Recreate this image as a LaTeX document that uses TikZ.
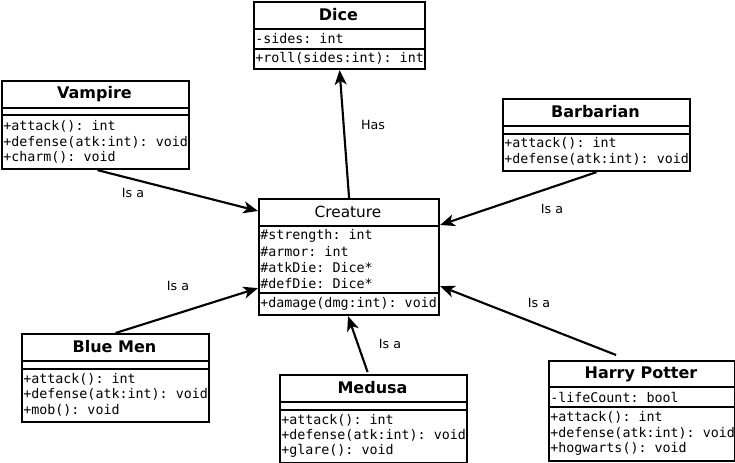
\documentclass[tikz,border=0pt]{standalone}
\usepackage{fontspec}
\setmainfont{DejaVu Sans}
\setmonofont{DejaVu Sans Mono}
\usetikzlibrary{arrows.meta,calc}
\tikzset{
  classbox/.style={draw, line width=1.6pt, inner sep=0pt, rectangle, anchor=north west},
  divider/.style={line width=1.6pt},
  title/.style={font=\fontsize{12}{14}\selectfont\bfseries, inner sep=0pt},
  ctitle/.style={font=\fontsize{11.5}{13}\selectfont, inner sep=0pt},
  member/.style={font=\fontsize{10}{11}\selectfont\ttfamily, inner sep=0pt, anchor=west},
  lbl/.style={font=\fontsize{9.5}{10}\selectfont, inner sep=0pt},
  conn/.style={line width=1.6pt, -{Stealth[length=11pt,width=9pt,inset=3pt]}}
}
\newcommand\umlbox[5]{%
  \node[classbox, minimum width={(#4-#2)*0.75pt}, minimum height={(#5-#3)*0.75pt}] (#1) at (#2,#3) {};}
\begin{document}
\begin{tikzpicture}[x=0.75pt,y=-0.75pt]
\useasboundingbox (0,0) rectangle (735,463);

% Dice
\umlbox{dice}{253}{1}{424}{68}
\draw[divider] (253,29) -- (424,29);
\draw[divider] (253,49) -- (424,49);
\node[title] (diceT) at (338.5,15) {Dice};
\node[member] (diceA) at (255,39) {-sides: int};
\node[member] (diceM) at (255,58.5) {+roll(sides:int): int};

% Vampire
\umlbox{vamp}{1}{80}{188}{168}
\draw[divider] (1,108) -- (188,108);
\draw[divider] (1,115) -- (188,115);
\node[title] (vampT) at (94.5,94) {Vampire};
\node[member] (vampM1) at (3,126.5) {+attack(): int};
\node[member] (vampM2) at (3,142) {+defense(atk:int): void};
\node[member] (vampM3) at (3,157) {+charm(): void};

% Creature
\umlbox{cre}{258}{198}{438}{314}
\draw[divider] (258,226) -- (438,226);
\draw[divider] (258,293) -- (438,293);
\node[ctitle] (creT) at (348,212) {Creature};
\node[member] (creA1) at (260,236) {\#strength: int};
\node[member] (creA2) at (260,252) {\#armor: int};
\node[member] (creA3) at (260,268) {\#atkDie: Dice*};
\node[member] (creA4) at (260,284) {\#defDie: Dice*};
\node[member] (creM1) at (260,303.5) {+damage(dmg:int): void};

% Barbarian
\umlbox{barb}{502}{98}{689}{170}
\draw[divider] (502,126) -- (689,126);
\draw[divider] (502,134) -- (689,134);
\node[title] (barbT) at (595.5,112) {Barbarian};
\node[member] (barbM1) at (504,143.5) {+attack(): int};
\node[member] (barbM2) at (504,159) {+defense(atk:int): void};

% Blue Men
\umlbox{blue}{21}{333}{208}{421}
\draw[divider] (21,361) -- (208,361);
\draw[divider] (21,369) -- (208,369);
\node[title] (blueT) at (114.5,347) {Blue Men};
\node[member] (blueM1) at (23,379) {+attack(): int};
\node[member] (blueM2) at (23,394.5) {+defense(atk:int): void};
\node[member] (blueM3) at (23,410) {+mob(): void};

% Medusa
\umlbox{med}{279}{374}{466}{462}
\draw[divider] (279,402) -- (466,402);
\draw[divider] (279,410) -- (466,410);
\node[title] (medT) at (372.5,388) {Medusa};
\node[member] (medM1) at (281,420) {+attack(): int};
\node[member] (medM2) at (281,435.5) {+defense(atk:int): void};
\node[member] (medM3) at (281,451) {+glare(): void};

% Harry Potter
\umlbox{harry}{548}{360}{734}{460}
\draw[divider] (548,387) -- (734,387);
\draw[divider] (548,407) -- (734,407);
\node[title] (harryT) at (641,374) {Harry Potter};
\node[member] (harryA1) at (550,397) {-lifeCount: bool};
\node[member] (harryM1) at (550,417.5) {+attack(): int};
\node[member] (harryM2) at (550,433) {+defense(atk:int): void};
\node[member] (harryM3) at (550,449) {+hogwarts(): void};

% Connectors
\draw[conn] (cre.north) -- (dice.south);
\draw[conn] ($(vamp.south)+(2,0)$) -- ($(cre.north west)+(0,13)$);
\draw[conn] (barb.south) -- ($(cre.north east)+(0,27)$);
\draw[conn] (blue.north) -- ($(cre.south west)+(0,-28)$);
\draw[conn] ($(med.north)+(-6,-2)$) -- ($(cre.south)+(-1,0)$);
\draw[conn] ($(harry.north)+(-26,-5)$) -- ($(cre.south east)+(0,-30)$);

% Labels
\node[lbl] (lHas) at (373,125) {Has};
\node[lbl] (lVamp) at (133,193) {Is a};
\node[lbl] (lBarb) at (552,209) {Is a};
\node[lbl] (lBlue) at (178,286) {Is a};
\node[lbl] (lMed) at (390,344) {Is a};
\node[lbl] (lHarry) at (539,303) {Is a};
\end{tikzpicture}
\end{document}
